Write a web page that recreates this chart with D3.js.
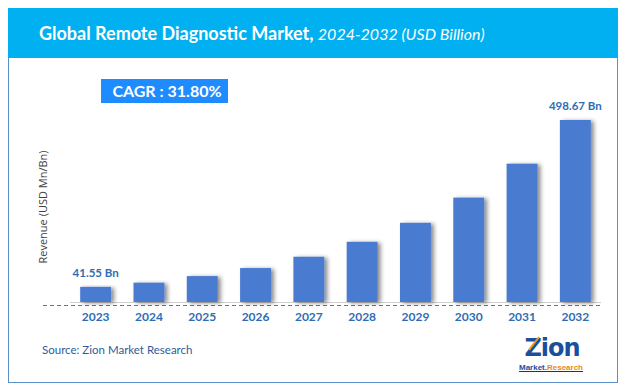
<!DOCTYPE html>
<html>
<head>
<meta charset="utf-8">
<script src="https://cdn.jsdelivr.net/npm/d3@7"></script>
<style>
  body { margin: 0; background: #fff; }
  svg { display: block; }
</style>
</head>
<body>
<div id="chart"></div>
<script>
// chart data
const years = ["2023", "2024", "2025", "2026", "2027", "2028", "2029", "2030", "2031", "2032"];
const revenue = [41.55, 53, 71, 93, 124, 165, 217, 286, 379, 498.67];
const valueLabels = { "2023": "41.55 Bn", "2032": "498.67 Bn" };
const cagrText = "CAGR : 31.80%";

const width = 625, height = 392;
const svg = d3.select("#chart").append("svg")
  .attr("width", width)
  .attr("height", height);

const defs = svg.append("defs");
const shadow = defs.append("filter").attr("id", "shadow")
  .attr("x", "-20%").attr("y", "-10%").attr("width", "160%").attr("height", "130%");
shadow.append("feDropShadow")
  .attr("dx", 3).attr("dy", 1).attr("stdDeviation", 2)
  .attr("flood-color", "#000").attr("flood-opacity", 0.45);

/* Frame + title bar */
svg.append("rect")
  .attr("x", 8.5).attr("y", 8.5).attr("width", 609).attr("height", 374)
  .attr("fill", "#fff").attr("stroke", "#5b8fc9").attr("stroke-width", 1);

svg.append("rect")
  .attr("x", 8).attr("y", 8).attr("width", 610).attr("height", 50)
  .attr("fill", "#00b0f0");

const title = svg.append("text")
  .attr("x", 39).attr("y", 40)
  .attr("fill", "#fff")
  .style("font-family", "Lato, 'Open Sans', sans-serif");
title.append("tspan").text("Global Remote Diagnostic Market, ")
  .style("font-size", "18px").style("font-weight", "bold");
title.append("tspan").text("2024-2032 (USD Billion)")
  .style("font-size", "16px").style("font-style", "italic");

/* Scales */
const x = d3.scaleBand()
  .domain(years)
  .range([69, 602])
  .paddingInner(0.42)
  .paddingOuter(0.21);

const y = d3.scaleLinear()
  .domain([0, 498.67])
  .range([302, 120]);

/* Baselines */
svg.append("line")
  .attr("x1", 70).attr("x2", 601)
  .attr("y1", 302.5).attr("y2", 302.5)
  .attr("stroke", "#d0d0d0").attr("stroke-width", 1);

svg.append("line")
  .attr("x1", 43).attr("x2", 602)
  .attr("y1", 305.5).attr("y2", 305.5)
  .attr("stroke", "#4a78c0").attr("stroke-width", 1)
  .attr("stroke-dasharray", "4,3");

/* Bars */
const data = years.map((yr, i) => ({ year: yr, value: revenue[i] }));

svg.append("g")
  .selectAll("rect")
  .data(data).enter()
  .append("rect")
  .attr("x", d => x(d.year))
  .attr("y", d => y(d.value))
  .attr("width", x.bandwidth())
  .attr("height", d => y(0) - y(d.value))
  .attr("fill", "#4a7bd1")
  .attr("filter", "url(#shadow)");

/* Value labels */
svg.append("g")
  .selectAll("text")
  .data(data.filter(d => valueLabels[d.year])).enter()
  .append("text")
  .attr("x", d => x(d.year) + x.bandwidth() / 2)
  .attr("y", d => y(d.value) - 10)
  .attr("text-anchor", "middle")
  .attr("fill", "#2e6db4")
  .style("font-family", "Lato, 'Open Sans', sans-serif")
  .style("font-size", "11.5px")
  .style("font-weight", "bold")
  .text(d => valueLabels[d.year]);

/* X axis */
const xAxis = d3.axisBottom(x).tickSize(0).tickPadding(6);
const gx = svg.append("g")
  .attr("transform", "translate(0, 306)")
  .call(xAxis);
gx.select(".domain").remove();
gx.selectAll("text")
  .attr("fill", "#2e6db4")
  .style("font-family", "Lato, 'Open Sans', sans-serif")
  .style("font-size", "12px")
  .style("font-weight", "bold");

/* Y axis title */
svg.append("text")
  .attr("transform", "translate(47, 207) rotate(-90)")
  .attr("text-anchor", "middle")
  .attr("fill", "#404040")
  .style("font-family", "'Open Sans', sans-serif")
  .style("font-size", "11px")
  .text("Revenue (USD Mn/Bn)");

/* CAGR badge */
svg.append("rect")
  .attr("x", 101).attr("y", 79).attr("width", 127).attr("height", 24)
  .attr("fill", "#1e8cff");
svg.append("text")
  .attr("x", 167).attr("y", 96.5)
  .attr("text-anchor", "middle")
  .attr("fill", "#fff")
  .style("font-family", "Lato, 'Open Sans', sans-serif")
  .style("font-size", "16px")
  .style("font-weight", "bold")
  .text(cagrText);

/* Source */
svg.append("text")
  .attr("x", 42).attr("y", 354)
  .attr("fill", "#2e5c9a")
  .style("font-family", "Lato, 'Open Sans', sans-serif")
  .style("font-size", "11.5px")
  .text("Source: Zion Market Research");

/* Logo */
const logo = svg.append("g");
logo.append("text")
  .attr("x", 552).attr("y", 356)
  .attr("text-anchor", "middle")
  .attr("fill", "#1b4f9c")
  .style("font-family", "'DejaVu Sans', sans-serif")
  .style("font-size", "24px")
  .style("font-weight", "bold")
  .style("letter-spacing", "-1px")
  .text("Zion");
logo.append("path")
  .attr("d", "M529,350 L539,337")
  .attr("stroke", "#f39c12").attr("stroke-width", 2);
const logoSub = logo.append("text")
  .attr("x", 551).attr("y", 370)
  .attr("text-anchor", "middle")
  .style("font-family", "'Liberation Sans', sans-serif")
  .style("font-size", "8px")
  .style("font-weight", "bold")
  .attr("text-decoration", "underline");
logoSub.append("tspan").attr("fill", "#1b4f9c").text("Market.");
logoSub.append("tspan").attr("fill", "#e8891c").text("Research");
</script>
</body>
</html>
